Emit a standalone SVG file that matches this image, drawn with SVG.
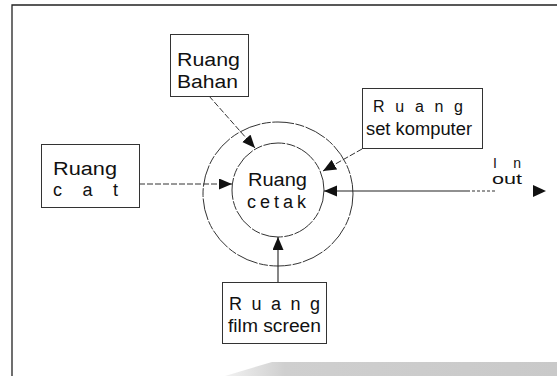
<svg xmlns="http://www.w3.org/2000/svg" width="557" height="376" viewBox="0 0 557 376">
  <style>
    .frame { fill: none; stroke: #222; stroke-width: 1.3; }
    .box { fill: #fff; stroke: #333; stroke-width: 1; }
    .ring { fill: none; stroke: #333; stroke-width: 1; stroke-dasharray: 22 1.5 9 1.5; }
    .link { fill: none; stroke: #333; stroke-width: 1; stroke-dasharray: 6 2; }
    .solid { fill: none; stroke: #222; stroke-width: 1.1; }
    .lbl { font-family: "Liberation Sans", Arial, sans-serif; font-size: 18px; fill: #111; }
    .mid { font-family: "Liberation Sans", Arial, sans-serif; font-size: 16px; fill: #111; }
    .small { font-family: "Liberation Sans", Arial, sans-serif; font-size: 14px; fill: #111; }
  </style>
  <defs>
    <marker id="arrow" markerUnits="userSpaceOnUse" markerWidth="14" markerHeight="12" refX="13" refY="5.5" orient="auto">
      <path d="M0,0 L13,5.5 L0,11 z" fill="#111"/>
    </marker>
    <linearGradient id="shade" x1="0" y1="0" x2="1" y2="0">
      <stop offset="0" stop-color="#f2f2f2"/>
      <stop offset="0.18" stop-color="#cfcfcf"/>
      <stop offset="1" stop-color="#c9c9c9"/>
    </linearGradient>
  </defs>

  <rect width="557" height="376" fill="#fff"/>

  <!-- page frame -->
  <path class="frame" d="M12,376 L12,5 L557,5"/>

  <!-- shaded band along the bottom edge -->
  <path d="M225,376 L272,362 L557,362 L557,376 Z" fill="url(#shade)"/>

  <!-- printing room: two concentric rings -->
  <g id="ruang-cetak">
    <ellipse class="ring" cx="278" cy="194" rx="75" ry="72"/>
    <ellipse class="ring" cx="278" cy="190" rx="46" ry="47"/>
    <text class="lbl" x="248" y="186" textLength="59" lengthAdjust="spacingAndGlyphs">Ruang</text>
    <text class="lbl" x="247" y="208" textLength="59" lengthAdjust="spacing">cetak</text>
  </g>

  <g id="ruang-bahan">
    <rect class="box" x="170.5" y="34.5" width="78" height="62"/>
    <text class="lbl" x="177" y="66" textLength="63" lengthAdjust="spacingAndGlyphs">Ruang</text>
    <text class="lbl" x="177" y="88" textLength="61" lengthAdjust="spacingAndGlyphs">Bahan</text>
  </g>

  <g id="ruang-set-komputer">
    <rect class="box" x="362.5" y="88.5" width="120" height="60"/>
    <text class="mid" x="373" y="112" textLength="90" lengthAdjust="spacing">R u a n g</text>
    <text class="lbl" x="366" y="135" textLength="106" lengthAdjust="spacingAndGlyphs">set komputer</text>
  </g>

  <g id="ruang-cat">
    <rect class="box" x="41.5" y="144.5" width="98" height="63"/>
    <text class="lbl" x="53" y="175" textLength="64" lengthAdjust="spacingAndGlyphs">Ruang</text>
    <text class="lbl" x="53" y="196" textLength="65" lengthAdjust="spacing">c a t</text>
  </g>

  <g id="ruang-film-screen">
    <rect class="box" x="222.5" y="282.5" width="104" height="61"/>
    <text class="lbl" x="229" y="310" textLength="91" lengthAdjust="spacing">R u a n g</text>
    <text class="lbl" x="228" y="332" textLength="93" lengthAdjust="spacingAndGlyphs">film screen</text>
  </g>

  <g id="in-out">
    <text class="small" x="493" y="168" textLength="28" lengthAdjust="spacing">I n</text>
    <text class="small" x="492" y="184" textLength="30" lengthAdjust="spacingAndGlyphs">out</text>
    <path d="M533,185 L546,191 L533,197 Z" fill="#111"/>
  </g>

  <!-- connectors -->
  <g id="connectors">
    <line class="link" x1="209" y1="96" x2="255" y2="148" marker-end="url(#arrow)"/>
    <line class="link" x1="362" y1="149" x2="323" y2="171" marker-end="url(#arrow)"/>
    <line class="link" x1="139" y1="184" x2="232" y2="184" marker-end="url(#arrow)"/>
    <line class="solid" x1="278" y1="282" x2="278" y2="237" marker-end="url(#arrow)"/>
    <!-- in/out feed: solid near the ring, breaking up towards the label -->
    <line class="solid" x1="470" y1="191" x2="324" y2="191" marker-end="url(#arrow)"/>
    <line x1="472" y1="191" x2="495" y2="191" stroke="#333" stroke-width="1" stroke-dasharray="3 2"/>
  </g>
</svg>
